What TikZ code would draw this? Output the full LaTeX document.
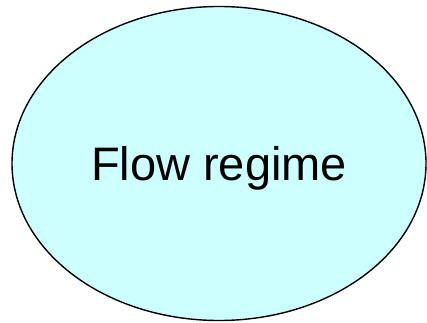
\documentclass[tikz,border=0pt]{standalone}
\usepackage{fontspec}
\setmainfont{Liberation Sans}
\usepackage{tikz}
\usetikzlibrary{shapes.geometric}
\definecolor{flow_cyan}{RGB}{204, 255, 255}
\tikzstyle{regime}=[ellipse,fill=flow_cyan,draw=black,
  line width=1.4pt,inner sep=0pt,minimum width=414pt,minimum height=314pt,
  text depth=0pt,font=\fontsize{47}{56}\selectfont]

\begin{document}
\begin{tikzpicture}[x=1pt,y=1pt]
        \useasboundingbox (0,0) rectangle (427,322);
        \node [style=regime] (0) at (219,158.5) {Flow regime};
    \end{tikzpicture}
\end{document}
